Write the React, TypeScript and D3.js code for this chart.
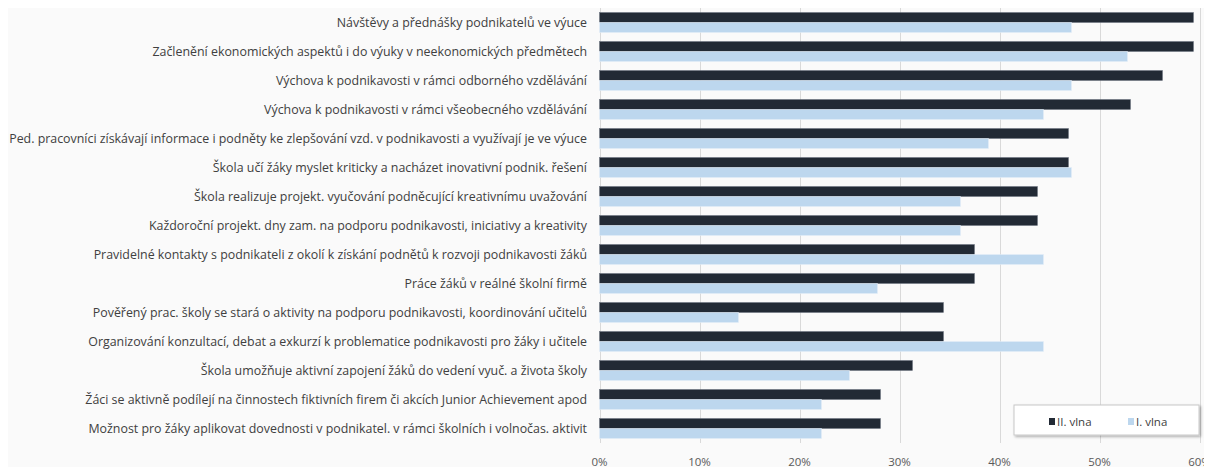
import React from "react";
import * as d3 from "d3";

const categories = [
  "Návštěvy a přednášky podnikatelů ve výuce",
  "Začlenění ekonomických aspektů i do výuky v neekonomických předmětech",
  "Výchova k podnikavosti v rámci odborného vzdělávání",
  "Výchova k podnikavosti v rámci všeobecného vzdělávání",
  "Ped. pracovníci získávají informace i podněty ke zlepšování vzd. v podnikavosti a využívají je ve výuce",
  "Škola učí žáky myslet kriticky a nacházet inovativní podnik. řešení",
  "Škola realizuje projekt. vyučování podněcující kreativnímu uvažování",
  "Každoroční projekt. dny zam. na podporu podnikavosti, iniciativy a kreativity",
  "Pravidelné kontakty s podnikateli z okolí k získání podnětů k rozvoji podnikavosti žáků",
  "Práce žáků v reálné školní firmě",
  "Pověřený prac. školy se stará o aktivity na podporu podnikavosti, koordinování učitelů",
  "Organizování konzultací, debat a exkurzí k problematice podnikavosti pro žáky i učitele",
  "Škola umožňuje aktivní zapojení žáků do vedení vyuč. a života školy",
  "Žáci se aktivně podílejí na činnostech fiktivních firem či akcích Junior Achievement apod",
  "Možnost pro žáky aplikovat dovednosti v podnikatel. v rámci školních i volnočas. aktivit",
];

const vlna2 = [59.4, 59.4, 56.3, 53.1, 46.9, 46.9, 43.8, 43.8, 37.5, 37.5, 34.4, 34.4, 31.3, 28.1, 28.1];
const vlna1 = [47.2, 52.8, 47.2, 44.4, 38.9, 47.2, 36.1, 36.1, 44.4, 27.8, 13.9, 44.4, 25.0, 22.2, 22.2];

const seriesNames = ["II. vlna", "I. vlna"];
const seriesColors = ["#222a35", "#bdd7ee"];
const xTicks = [0, 10, 20, 30, 40, 50, 60];

const W = 1204;
const H = 459;
const FONT = "'Open Sans', 'Noto Sans', sans-serif";

export default function App() {
  const left = 591.5;
  const right = 1191.5;
  const top = 0;
  const bottom = 435;

  const x = d3.scaleLinear().domain([0, 60]).range([left, right]);
  const y = d3
    .scaleBand<string>()
    .domain(categories)
    .range([top, bottom])
    .paddingInner(0.31)
    .paddingOuter(0.155);
  const sub = d3.scaleBand<number>().domain([0, 1]).range([0, y.bandwidth()]);

  const series = [vlna2, vlna1];

  return (
    <svg width={W} height={H} style={{ display: "block" }} fontFamily={FONT}>
      <rect x={0} y={0} width={W} height={H} fill="#fafafa" />
      {xTicks.map((t) => (
        <line
          key={t}
          x1={Math.round(x(t)) + 0.5}
          x2={Math.round(x(t)) + 0.5}
          y1={top}
          y2={bottom}
          stroke="#d9d9d9"
          strokeWidth={1}
        />
      ))}
      {categories.map((c, i) => (
        <g key={c}>
          {series.map((s, k) => (
            <rect
              key={k}
              x={x(0)}
              y={(y(c) as number) + (sub(k) as number)}
              width={x(s[i]) - x(0)}
              height={sub.bandwidth()}
              fill={seriesColors[k]}
              stroke={k === 0 ? "#6b7380" : "#e4eef8"}
              strokeWidth={0.5}
            />
          ))}
          <text
            x={579}
            y={(y(c) as number) + y.bandwidth() / 2}
            textAnchor="end"
            dominantBaseline="central"
            fontSize={12.4}
            fill="#404040"
          >
            {c}
          </text>
        </g>
      ))}
      {xTicks.map((t) => (
        <text
          key={t}
          x={x(t)}
          y={453}
          textAnchor="middle"
          dominantBaseline="central"
          fontSize={11.5}
          fill="#595959"
        >
          {t}%
        </text>
      ))}
      <g>
        <defs>
          <filter id="sh" x="-10%" y="-30%" width="120%" height="160%">
            <feDropShadow dx="1.5" dy="1.5" stdDeviation="1.2" floodColor="#000" floodOpacity="0.3" />
          </filter>
        </defs>
        <rect x={1006} y={397} width={185} height={30} fill="#ffffff" stroke="#c8c8c8" strokeWidth={1} filter="url(#sh)" />
        {seriesNames.map((n, k) => {
          const lx = k === 0 ? 1041 : 1120;
          return (
            <g key={n}>
              <rect x={lx} y={410} width={6} height={7} fill={seriesColors[k]} />
              <text x={lx + 8} y={413.5} dominantBaseline="central" fontSize={11.5} fill="#404040">
                {n}
              </text>
            </g>
          );
        })}
      </g>
    </svg>
  );
}
